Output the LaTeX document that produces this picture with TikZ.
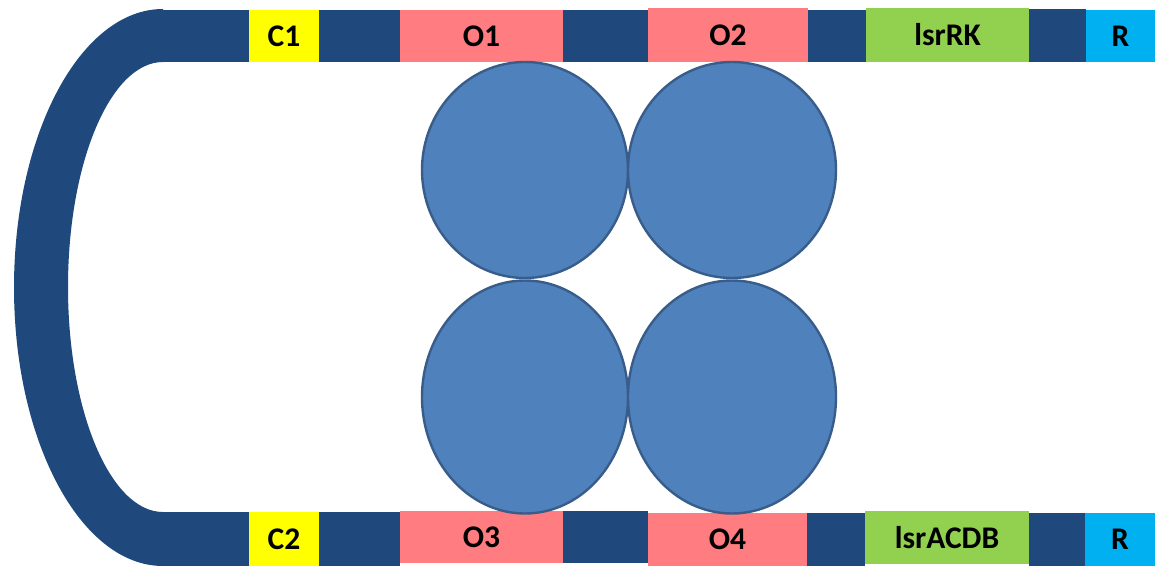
\documentclass[tikz,border=0pt]{standalone}
\usepackage{fontspec}
\setmainfont{Carlito}
\usetikzlibrary{shapes.geometric}
\definecolor{barblue}{HTML}{1F497D}
\definecolor{opink}{HTML}{FF7C80}
\definecolor{cyell}{HTML}{FFFF00}
\definecolor{lgreen}{HTML}{92D050}
\definecolor{rcyan}{HTML}{00B0F0}
\definecolor{ballfill}{HTML}{4F81BD}
\definecolor{ballline}{HTML}{385D8A}
\tikzset{
  seg/.style={rectangle, inner sep=0pt, outer sep=0pt, anchor=center,
    font=\fontsize{31.5}{31.5}\selectfont\bfseries, text=black},
  ball/.style={ellipse, inner sep=0pt, outer sep=0pt, draw=ballline,
    fill=ballfill, line width=2.4pt}
}
% segment: name, x1, y1, x2, y2 (y measured downward), colour, label
\newcommand\segbox[7]{%
  \node[seg, fill=#6, minimum width={(#4)-(#2)}, minimum height={(#5)-(#3)}]
    (#1) at ({((#2)+(#4))/2},{-((#3)+(#5))/2}) {\raisebox{-1.5pt}{#7}};}
\begin{document}
\begin{tikzpicture}[x=1pt,y=1pt]
\useasboundingbox (0,0) rectangle (1157,-567);

% curved linker joining the two strands
\fill[barblue] (163,-9)
  arc[start angle=90, end angle=270, x radius=149, y radius=278.5]
  -- (163,-512)
  arc[start angle=270, end angle=90, x radius=95, y radius=225]
  -- cycle;

% upper strand
\segbox{t0}{162}{10}{250}{62}{barblue}{}
\segbox{c1}{249}{10}{319}{62}{cyell}{C1}
\segbox{t1}{319}{10}{400}{62}{barblue}{}
\segbox{o1}{400}{10}{563}{62}{opink}{O1}
\segbox{t2}{563}{10}{648}{62}{barblue}{}
\segbox{o2}{648}{8}{808}{62}{opink}{O2}
\segbox{t3}{808}{10}{866}{62}{barblue}{}
\segbox{rk}{866}{8}{1029}{62}{lgreen}{lsrRK}
\segbox{t4}{1029}{9}{1086}{62}{barblue}{}
\segbox{r1}{1086}{10}{1155}{62}{rcyan}{R}

% lower strand
\segbox{b0}{162}{512}{250}{566}{barblue}{}
\segbox{c2}{249}{512}{319}{566}{cyell}{C2}
\segbox{b1}{319}{512}{400}{566}{barblue}{}
\segbox{o3}{400}{511}{563}{563}{opink}{O3}
\segbox{b2}{563}{511}{648}{563}{barblue}{}
\segbox{o4}{648}{513}{807}{566}{opink}{O4}
\segbox{b3}{807}{513}{865}{566}{barblue}{}
\segbox{acdb}{865}{511}{1029}{564}{lgreen}{lsrACDB}
\segbox{b4}{1029}{513}{1085}{566}{barblue}{}
\segbox{r2}{1085}{513}{1155}{566}{rcyan}{R}

% four spheres between the strands
\node[ball, minimum width=206pt, minimum height=216pt] (s1) at (525,-170) {};
\node[ball, minimum width=208pt, minimum height=216pt] (s2) at (732,-170) {};
\node[ball, minimum width=206pt, minimum height=233pt] (s3) at (525,-397) {};
\node[ball, minimum width=208pt, minimum height=233pt] (s4) at (732,-397) {};
\end{tikzpicture}
\end{document}
